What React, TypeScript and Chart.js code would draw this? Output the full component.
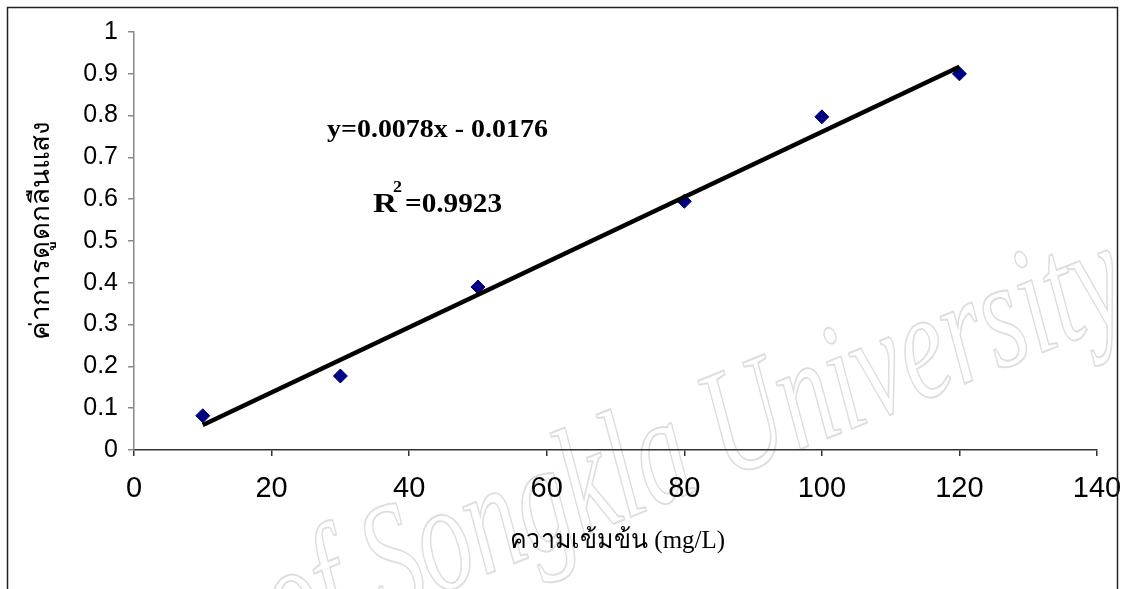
import React, { useEffect, useRef } from "react";
import { Chart, registerables } from "chart.js";

Chart.register(...registerables);

const concentrations = [10, 30, 50, 80, 100, 120];
const absorbances = [0.082, 0.177, 0.39, 0.595, 0.797, 0.9];
const trendX = [10, 120];
const trendY = [0.06, 0.917];
const xTicks = [0, 20, 40, 60, 80, 100, 120, 140];
const yTicks = [0, 0.1, 0.2, 0.3, 0.4, 0.5, 0.6, 0.7, 0.8, 0.9, 1];
const equationText = "y=0.0078x - 0.0176";
const r2Value = "=0.9923";
const yTitle = "ค่าการดูดกลืนแสง";
const xTitle = "ความเข้มข้น (mg/L)";
const watermark = "of Songkla University";

function fitText(ctx: CanvasRenderingContext2D, text: string, x: number, y: number, width: number, font: string) {
  ctx.save();
  ctx.font = font;
  ctx.textBaseline = "alphabetic";
  ctx.textAlign = "left";
  const w = ctx.measureText(text).width;
  ctx.translate(x, y);
  ctx.scale(width / w, 1);
  ctx.fillText(text, 0, 0);
  ctx.restore();
}

const decorPlugin = {
  id: "decor",
  beforeDraw(chart: any) {
    const ctx: CanvasRenderingContext2D = chart.ctx;
    ctx.save();
    ctx.fillStyle = "#ffffff";
    ctx.fillRect(0, 0, chart.width, chart.height);
    // watermark
    ctx.translate(285, 655);
    ctx.rotate(-0.38);
    ctx.font = "italic 155px 'Liberation Serif'";
    const w = ctx.measureText(watermark).width;
    ctx.scale(915 / w, 1);
    ctx.strokeStyle = "#dedede";
    ctx.lineWidth = 2;
    ctx.strokeText(watermark, 0, 0);
    ctx.restore();
  },
  afterDraw(chart: any) {
    const ctx: CanvasRenderingContext2D = chart.ctx;
    ctx.save();
    // frame
    ctx.strokeStyle = "#222222";
    ctx.lineWidth = 1.5;
    ctx.strokeRect(7.5, 7.5, 1110, 620);
    ctx.fillStyle = "#000000";
    // equation
    fitText(ctx, equationText, 327, 137, 221, "bold 25px 'Liberation Serif'");
    fitText(ctx, "R", 373, 212, 24, "bold 28px 'Liberation Serif'");
    fitText(ctx, "2", 393, 192, 9, "bold 16px 'Liberation Serif'");
    fitText(ctx, r2Value, 405, 212, 97, "bold 28px 'Liberation Serif'");
    // x title
    fitText(ctx, xTitle, 510, 548, 215, "26px 'Liberation Serif'");
    // y title
    ctx.save();
    ctx.translate(49, 340);
    ctx.rotate(-Math.PI / 2);
    fitText(ctx, yTitle, 0, 0, 218, "27px 'Liberation Serif'");
    ctx.restore();
    ctx.restore();
  },
};

export default function App() {
  const ref = useRef<HTMLCanvasElement | null>(null);
  useEffect(() => {
    if (!ref.current) return;
    const chart = new Chart(ref.current, {
      type: "scatter",
      data: {
        datasets: [
          {
            label: "data",
            data: concentrations.map((x, i) => ({ x, y: absorbances[i] })),
            backgroundColor: "#000080",
            borderColor: "#000080",
            pointStyle: "rectRot",
            pointRadius: 7,
            pointHoverRadius: 7,
            borderWidth: 1,
            showLine: false,
            order: 2,
          },
          {
            label: "trend",
            type: "line",
            data: trendX.map((x, i) => ({ x, y: trendY[i] })),
            borderColor: "#000000",
            borderWidth: 4.5,
            pointRadius: 0,
            showLine: true,
            fill: false,
            order: 1,
          } as any,
        ],
      },
      options: {
        animation: false,
        responsive: false,
        maintainAspectRatio: false,
        events: [],
        layout: { padding: { top: 32, right: 28, left: 0, bottom: 0 } },
        plugins: {
          legend: { display: false },
          tooltip: { enabled: false },
          title: { display: false },
        },
        scales: {
          x: {
            type: "linear",
            min: 0,
            max: 140,
            afterBuildTicks: (s: any) => {
              s.ticks = xTicks.map((v) => ({ value: v }));
            },
            afterFit: (s: any) => {
              s.height = 139;
              s.paddingLeft = 0;
              s.paddingRight = 0;
            },
            ticks: {
              color: "#000000",
              font: { family: "'Liberation Sans'", size: 29 },
              padding: 16,
              maxRotation: 0,
              callback: (v: any) => String(v),
            },
            grid: { drawOnChartArea: false, tickLength: 6, color: "#333333", lineWidth: 1.5 },
            border: { color: "#333333", width: 1.5 },
          },
          y: {
            type: "linear",
            min: 0,
            max: 1,
            afterBuildTicks: (s: any) => {
              s.ticks = yTicks.map((v) => ({ value: v }));
            },
            afterFit: (s: any) => {
              s.width = 134;
              s.paddingTop = 0;
              s.paddingBottom = 0;
            },
            ticks: {
              color: "#000000",
              font: { family: "'Liberation Sans'", size: 25 },
              padding: 10,
              callback: (v: any) => String(Number(Number(v).toFixed(1))),
            },
            grid: { drawOnChartArea: false, tickLength: 6, color: "#888888", lineWidth: 1.5 },
            border: { color: "#888888", width: 1.5 },
          },
        },
      },
      plugins: [decorPlugin],
    } as any);
    return () => chart.destroy();
  }, []);
  return (
    <div style={{ position: "fixed", left: 0, top: 0, width: 1125, height: 589, background: "#fff" }}>
      <canvas ref={ref} width={1125} height={589} style={{ width: 1125, height: 589, display: "block" }} />
    </div>
  );
}
